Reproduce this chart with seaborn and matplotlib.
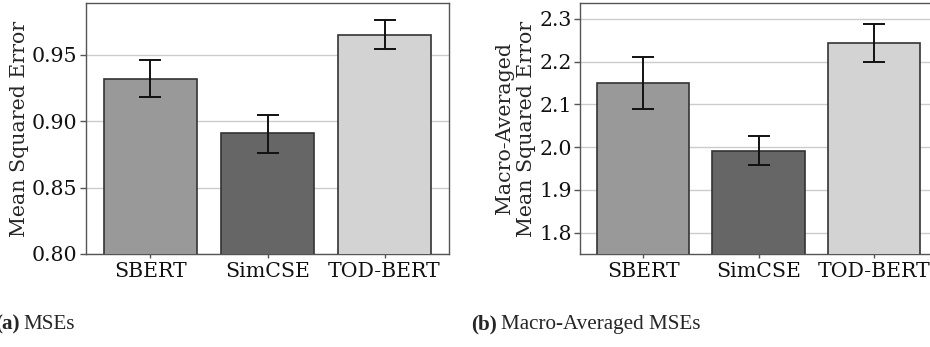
import matplotlib
matplotlib.use("Agg")
import matplotlib.pyplot as plt
import seaborn as sns
import pandas as pd
import numpy as np

models = ["SBERT", "SimCSE", "TOD-BERT"]
mse = [0.932, 0.891, 0.965]
mse_lo = [0.918, 0.876, 0.954]
mse_hi = [0.946, 0.905, 0.976]
macro = [2.150, 1.991, 2.243]
macro_lo = [2.090, 1.957, 2.198]
macro_hi = [2.210, 2.025, 2.288]
colors = ["#999999", "#666666", "#d3d3d3"]

sns.set_theme(style="whitegrid")
plt.rcParams["font.family"] = ["DejaVu Serif"]

W, H = 930, 347
FS = 14.8
fig = plt.figure(figsize=(W / 100, H / 100), dpi=100)
ax1 = fig.add_axes([86 / W, 93 / H, 363 / W, 251 / H])
ax2 = fig.add_axes([580 / W, 93 / H, 357 / W, 251 / H])


def draw(ax, vals, lo, hi, ylim, yticks, ylabel):
    df = pd.DataFrame({"model": models, "val": vals})
    sns.barplot(data=df, x="model", y="val", hue="model", palette=colors,
                legend=False, ax=ax, width=0.8, edgecolor="#333333",
                linewidth=1.2, errorbar=None, zorder=3)
    v = np.array(vals)
    yerr = np.vstack([v - np.array(lo), np.array(hi) - v])
    ax.errorbar(np.arange(len(models)), v, yerr=yerr, fmt="none",
                ecolor="#111111", elinewidth=1.4, capsize=8, capthick=1.4,
                zorder=4)
    ax.set_xlim(-0.55, 2.55)
    ax.set_ylim(*ylim)
    ax.set_yticks(yticks)
    ax.set_xlabel("")
    ax.set_ylabel(ylabel, fontsize=FS, labelpad=2.5)
    ax.tick_params(axis="both", labelsize=FS, colors="#111111")
    ax.tick_params(axis="y", length=4, width=1, color="#555555", left=True, pad=2)
    ax.tick_params(axis="x", length=3, width=1, color="#555555", bottom=True, pad=3)
    ax.grid(axis="x", visible=False)
    ax.grid(axis="y", color="#cccccc", linewidth=1.0)
    ax.set_axisbelow(True)
    for s in ax.spines.values():
        s.set_color("#555555")
        s.set_linewidth(1.0)


draw(ax1, mse, mse_lo, mse_hi, (0.80, 0.989), [0.80, 0.85, 0.90, 0.95],
     "Mean Squared Error")
ax1.yaxis.set_major_formatter(matplotlib.ticker.FormatStrFormatter("%.2f"))
draw(ax2, macro, macro_lo, macro_hi, (1.75, 2.337), [1.8, 1.9, 2.0, 2.1, 2.2, 2.3],
     "Macro-Averaged\nMean Squared Error")
ax2.yaxis.set_major_formatter(matplotlib.ticker.FormatStrFormatter("%.1f"))

cap_y = 1 - 329 / H
CFS = 15.2
renderer = fig.canvas.get_renderer()


def caption(x_px, tag, text):
    t = fig.text(x_px / W, cap_y, tag, fontfamily="Liberation Serif",
                 fontweight="bold", fontsize=CFS, va="baseline", ha="left")
    bb = t.get_window_extent(renderer=renderer)
    fig.text((bb.x1 + 4) / W, cap_y, text, fontfamily="Liberation Serif",
             fontsize=CFS, va="baseline", ha="left")


caption(-5, "(a)", "MSEs")
caption(471, "(b)", "Macro-Averaged MSEs")

fig.savefig("out.png", dpi=100)
